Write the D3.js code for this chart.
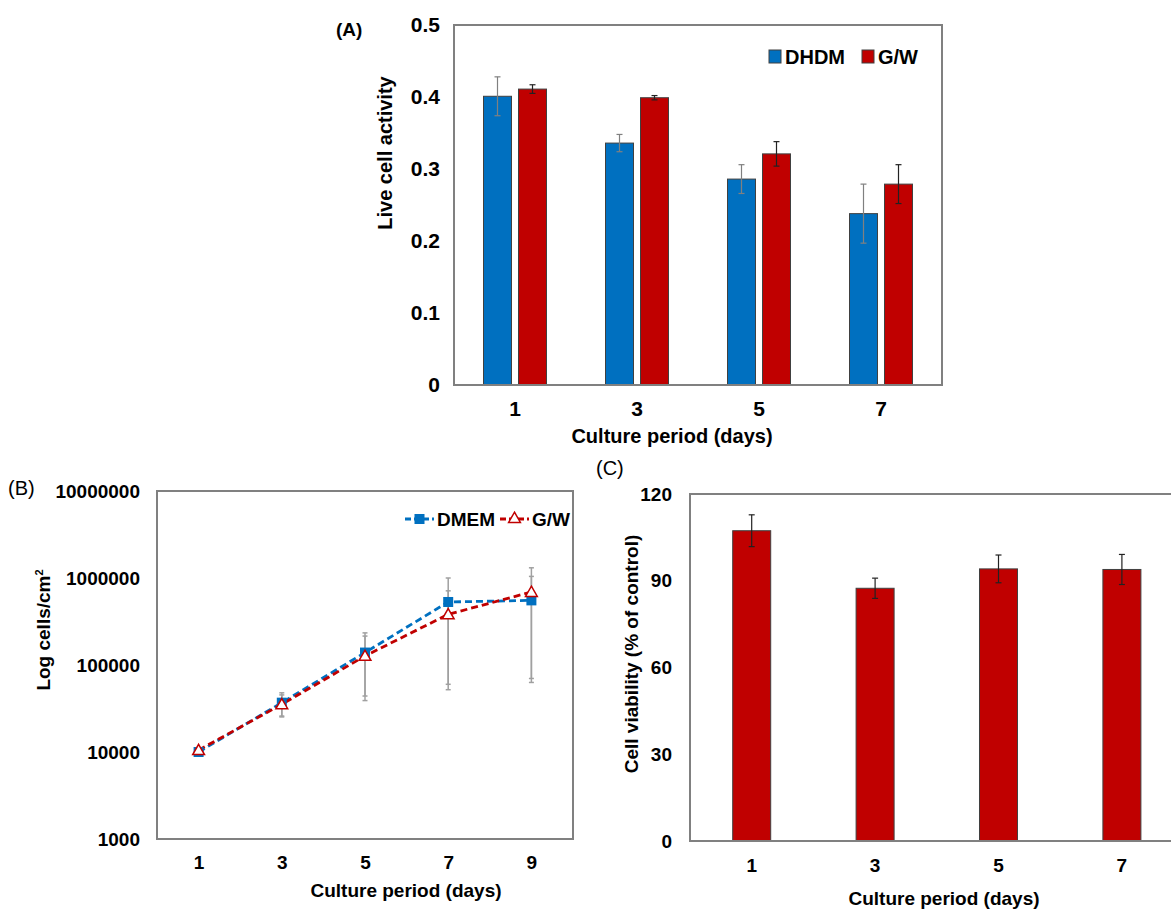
<!DOCTYPE html>
<html>
<head>
<meta charset="utf-8">
<script src="https://cdn.jsdelivr.net/npm/d3@7"></script>
<style>
    body { margin: 0; background: #fff; }
    text { font-family: "Liberation Sans", Arial, sans-serif; font-weight: bold; fill: #000; }
</style>
</head>
<body>
<div class="chart"></div>
<script>
// panel A - live cell activity
const daysA = ["1", "3", "5", "7"];
const seriesA = ["DHDM", "G/W"];
const dhdmMean = [0.401, 0.336, 0.286, 0.238];
const dhdmErr = [0.027, 0.012, 0.020, 0.041];
const gwMean = [0.411, 0.399, 0.321, 0.279];
const gwErr = [0.006, 0.003, 0.017, 0.027];
const ticksA = [0, 0.1, 0.2, 0.3, 0.4, 0.5];

// panel B - cell counts (log)
const daysB = [1, 3, 5, 7, 9];
const seriesB = ["DMEM", "G/W"];
const dmemCells = [10000, 36900, 139000, 530000, 553000];
const dmemCellsErr = [300, 11000, 95000, 470000, 490000];
const gwCells = [10500, 35300, 127000, 382000, 690000];
const gwCellsErr = [300, 10000, 88000, 330000, 620000];
const ticksB = [1000, 10000, 100000, 1000000, 10000000];

// panel C - viability
const daysC = ["1", "3", "5", "7"];
const viability = [107.3, 87.4, 94.1, 93.9];
const viabilityErr = [5.5, 3.5, 4.8, 5.2];
const ticksC = [0, 30, 60, 90, 120];

const blue = "#0070C0", red = "#C00000";

const svg = d3.select(".chart")
    .append("svg")
    .attr("width", 1171)
    .attr("height", 910);

function frame(x0, y0, x1, y1) {
    svg.append("rect")
        .attr("x", x0).attr("y", y0)
        .attr("width", x1 - x0).attr("height", y1 - y0)
        .attr("fill", "none")
        .attr("stroke", "#808080")
        .attr("stroke-width", 2);
}

function errBar(g, x, yTop, yBot, cap, color, w) {
    g.append("line").attr("x1", x).attr("x2", x).attr("y1", yTop).attr("y2", yBot)
        .attr("stroke", color).attr("stroke-width", w);
    [yTop, yBot].forEach(y => {
        g.append("line").attr("x1", x - cap).attr("x2", x + cap).attr("y1", y).attr("y2", y)
            .attr("stroke", color).attr("stroke-width", w);
    });
}

// ---------- (A) ----------
function PanelA() {
    const left = 454, right = 942, top = 25, bottom = 385;

    const xScale = d3.scaleBand().domain(daysA).range([left, right]);
    const xSub = d3.scaleBand().domain(seriesA)
        .range([xScale.bandwidth() / 2 - 31.5, xScale.bandwidth() / 2 + 31.5])
        .paddingInner(0.2);
    const yScale = d3.scaleLinear().domain([0, 0.5]).range([bottom, top]);

    const rows = daysA.map((d, i) => ({
        day: d,
        vals: [
            { s: "DHDM", v: dhdmMean[i], e: dhdmErr[i] },
            { s: "G/W", v: gwMean[i], e: gwErr[i] }
        ]
    }));

    const colors = d3.scaleOrdinal().domain(seriesA).range([blue, red]);
    const errColors = d3.scaleOrdinal().domain(seriesA).range(["#808080", "#222"]);

    const groups = svg.selectAll(".grpA").data(rows).enter().append("g")
        .attr("class", "grpA")
        .attr("transform", d => "translate(" + xScale(d.day) + ",0)");

    groups.selectAll("rect").data(d => d.vals).enter().append("rect")
        .attr("x", d => xSub(d.s))
        .attr("y", d => yScale(d.v))
        .attr("width", xSub.bandwidth())
        .attr("height", d => bottom - yScale(d.v))
        .attr("fill", d => colors(d.s))
        .attr("stroke", "#404040")
        .attr("stroke-width", 1);

    groups.each(function(d) {
        const g = d3.select(this);
        d.vals.forEach(v => {
            errBar(g, xSub(v.s) + xSub.bandwidth() / 2, yScale(v.v + v.e), yScale(v.v - v.e), 3, errColors(v.s), 1.2);
        });
    });

    frame(left, top, right, bottom);

    // axes without tick lines
    const yAxis = d3.axisLeft(yScale).tickValues(ticksA).tickSize(0).tickPadding(14)
        .tickFormat(d => d === 0 ? "0" : d3.format(".1f")(d));
    svg.append("g").attr("transform", "translate(" + left + ",0)").call(yAxis)
        .call(g => g.select(".domain").remove())
        .selectAll("text").style("font-size", "21px");

    const xAxis = d3.axisBottom(xScale).tickSize(0).tickPadding(16);
    svg.append("g").attr("transform", "translate(0," + bottom + ")").call(xAxis)
        .call(g => g.select(".domain").remove())
        .selectAll("text").style("font-size", "21px");

    svg.append("text").attr("x", 672).attr("y", 443).attr("text-anchor", "middle")
        .style("font-size", "20px").text("Culture period (days)");
    svg.append("text").attr("transform", "translate(392,153) rotate(-90)")
        .attr("text-anchor", "middle").style("font-size", "20px").text("Live cell activity");
    svg.append("text").attr("x", 336).attr("y", 36).style("font-size", "19px").text("(A)");

    // legend
    const legX = [769, 862];
    seriesA.forEach((s, i) => {
        svg.append("rect").attr("x", legX[i]).attr("y", 50).attr("width", 12).attr("height", 13)
            .attr("fill", colors(s)).attr("stroke", "#404040").attr("stroke-width", 1);
        svg.append("text").attr("x", legX[i] + 16).attr("y", 64).style("font-size", "20px").text(s);
    });
}

// ---------- (B) ----------
function PanelB() {
    const left = 157, right = 573, top = 491, bottom = 839;

    const xScale = d3.scaleLinear().domain([0, 10]).range([left, right]);
    const yScale = d3.scaleLog().domain([1000, 10000000]).range([bottom, top]);

    const data = [
        { s: "DMEM", color: blue, pts: daysB.map((d, i) => ({ x: d, y: dmemCells[i], e: dmemCellsErr[i] })) },
        { s: "G/W", color: red, pts: daysB.map((d, i) => ({ x: d, y: gwCells[i], e: gwCellsErr[i] })) }
    ];

    const eg = svg.append("g");
    data.forEach(ser => {
        ser.pts.forEach(p => {
            errBar(eg, xScale(p.x), yScale(p.y + p.e), yScale(Math.max(p.y - p.e, 1000)), 2.5, "#a0a0a0", 1.5);
        });
    });

    const line = d3.line().x(d => xScale(d.x)).y(d => yScale(d.y));
    data.forEach(ser => {
        svg.append("path").datum(ser.pts)
            .attr("d", line)
            .attr("fill", "none")
            .attr("stroke", ser.color)
            .attr("stroke-width", 2.8)
            .attr("stroke-dasharray", "7,4");
    });

    // markers
    svg.selectAll(".sq").data(data[0].pts).enter().append("rect")
        .attr("x", d => xScale(d.x) - 5).attr("y", d => yScale(d.y) - 5)
        .attr("width", 10).attr("height", 10).attr("fill", blue);
    const tri = d3.symbol().type(d3.symbolTriangle).size(60);
    svg.selectAll(".tri").data(data[1].pts).enter().append("path")
        .attr("d", tri)
        .attr("transform", d => "translate(" + xScale(d.x) + "," + (yScale(d.y) + 1) + ")")
        .attr("fill", "#fff").attr("stroke", red).attr("stroke-width", 1.5);

    frame(left, top, right, bottom);

    const yAxis = d3.axisLeft(yScale).tickValues(ticksB).tickSize(0).tickPadding(17).tickFormat(d3.format("d"));
    svg.append("g").attr("transform", "translate(" + left + ",0)").call(yAxis)
        .call(g => g.select(".domain").remove())
        .selectAll("text").style("font-size", "19px");

    const xAxis = d3.axisBottom(xScale).tickValues(daysB).tickSize(0).tickPadding(17);
    svg.append("g").attr("transform", "translate(0," + bottom + ")").call(xAxis)
        .call(g => g.select(".domain").remove())
        .selectAll("text").style("font-size", "19px");

    svg.append("text").attr("x", 406).attr("y", 897).attr("text-anchor", "middle")
        .style("font-size", "19px").text("Culture period (days)");
    const yl = svg.append("text").attr("transform", "translate(50,630) rotate(-90)")
        .attr("text-anchor", "middle").style("font-size", "19px");
    yl.append("tspan").text("Log cells/cm");
    yl.append("tspan").attr("dy", -7).style("font-size", "11px").text("2");
    svg.append("text").attr("x", 8).attr("y", 495).style("font-size", "20px").style("font-weight", "normal").text("(B)");

    // legend
    const lg = svg.append("g");
    lg.append("line").attr("x1", 405).attr("x2", 434).attr("y1", 519).attr("y2", 519)
        .attr("stroke", blue).attr("stroke-width", 2.8).attr("stroke-dasharray", "6,3");
    lg.append("rect").attr("x", 414.5).attr("y", 514).attr("width", 10).attr("height", 10).attr("fill", blue);
    lg.append("text").attr("x", 437).attr("y", 526).style("font-size", "19px").text("DMEM");
    lg.append("line").attr("x1", 500).attr("x2", 529).attr("y1", 519).attr("y2", 519)
        .attr("stroke", red).attr("stroke-width", 2.8).attr("stroke-dasharray", "6,3");
    lg.append("path").attr("d", tri).attr("transform", "translate(514.5,519)")
        .attr("fill", "#fff").attr("stroke", red).attr("stroke-width", 1.5);
    lg.append("text").attr("x", 532).attr("y", 526).style("font-size", "19px").text("G/W");
}

// ---------- (C) ----------
function PanelC() {
    const left = 690, right = 1183.6, top = 494, bottom = 841;

    const xScale = d3.scaleBand().domain(daysC).range([left, right])
        .paddingInner(0.692).paddingOuter(0.346);
    const yScale = d3.scaleLinear().domain([0, 120]).range([bottom, top]);

    svg.selectAll(".barC").data(viability).enter().append("rect")
        .attr("x", (d, i) => xScale(daysC[i]))
        .attr("y", d => yScale(d))
        .attr("width", xScale.bandwidth())
        .attr("height", d => bottom - yScale(d))
        .attr("fill", red)
        .attr("stroke", "#404040")
        .attr("stroke-width", 1);

    const eg = svg.append("g");
    viability.forEach((v, i) => {
        errBar(eg, xScale(daysC[i]) + xScale.bandwidth() / 2, yScale(v + viabilityErr[i]), yScale(v - viabilityErr[i]), 3, "#222", 1.2);
    });

    frame(left, top, right, bottom);

    const yAxis = d3.axisLeft(yScale).tickValues(ticksC).tickSize(0).tickPadding(18);
    svg.append("g").attr("transform", "translate(" + left + ",0)").call(yAxis)
        .call(g => g.select(".domain").remove())
        .selectAll("text").style("font-size", "19px");

    const xAxis = d3.axisBottom(xScale).tickSize(0).tickPadding(18);
    svg.append("g").attr("transform", "translate(0," + bottom + ")").call(xAxis)
        .call(g => g.select(".domain").remove())
        .selectAll("text").style("font-size", "19px");

    svg.append("text").attr("x", 944).attr("y", 905).attr("text-anchor", "middle")
        .style("font-size", "19px").text("Culture period (days)");
    svg.append("text").attr("transform", "translate(638,654) rotate(-90)")
        .attr("text-anchor", "middle").style("font-size", "19px").text("Cell viability (% of control)");
    svg.append("text").attr("x", 596).attr("y", 475).style("font-size", "20px").style("font-weight", "normal").text("(C)");
}

PanelA();
PanelB();
PanelC();
</script>
</body>
</html>
